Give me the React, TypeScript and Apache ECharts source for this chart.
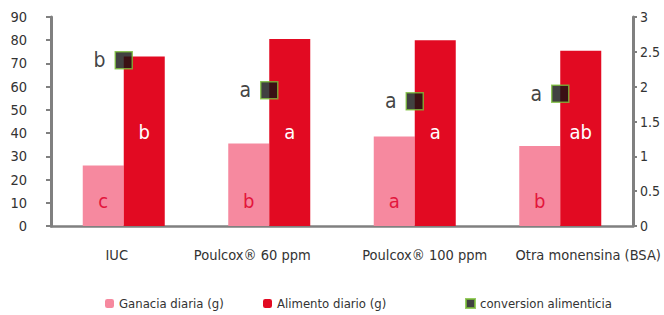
import React, { useEffect, useRef } from "react";
import * as echarts from "echarts";

const categories = ["IUC", "Poulcox® 60 ppm", "Poulcox® 100 ppm", "Otra monensina (BSA)"];
const ganancia = [26, 35.5, 38.5, 34.5];
const alimento = [73, 80.5, 80, 75.5];
const conversion = [2.38, 1.95, 1.79, 1.9];
const gananciaLetters = ["c", "b", "a", "b"];
const alimentoLetters = ["b", "a", "a", "ab"];
const conversionLetters = ["b", "a", "a", "a"];
const leftTicks = { min: 0, max: 90, interval: 10 };
const rightTicks = { min: 0, max: 3, interval: 0.5 };

// horizontal shift (px) of each category label, as in the original layout
const labelShift = [-7, -17, 10, 28];

const FONT = "'DejaVu Sans Condensed', 'Liberation Sans', sans-serif";
const PINK = "#f6899f";
const RED = "#e20a22";
const AXIS = "#808080";

const rich: Record<string, any> = {};
labelShift.forEach((s, i) => {
  rich["c" + i] = {
    fontFamily: FONT,
    fontSize: 14.5,
    color: "#333",
    padding: s >= 0 ? [0, 0, 0, 2 * s] : [0, -2 * s, 0, 0],
  };
});

export default function App() {
  const ref = useRef<HTMLDivElement>(null);
  useEffect(() => {
    const chart = echarts.init(ref.current!, null, { renderer: "svg" });
    const legendText = { fontFamily: FONT, fontSize: 13, color: "#333" };
    const legendBase = { top: 297, padding: 0, itemWidth: 9, itemHeight: 9, itemGap: 12, textStyle: legendText };
    chart.setOption({
      animation: false,
      backgroundColor: "#ffffff",
      textStyle: { fontFamily: FONT },
      grid: { left: 51, right: 31, top: 17, bottom: 89 },
      legend: [
        { ...legendBase, data: ["Ganacia diaria (g)"], left: 105 },
        { ...legendBase, data: ["Alimento diario (g)"], left: 263 },
        { ...legendBase, data: ["conversion alimenticia"], left: 465 },
      ],
      xAxis: {
        type: "category",
        data: categories,
        axisLine: { lineStyle: { color: AXIS, width: 2.5 } },
        axisTick: { show: false },
        axisLabel: {
          interval: 0,
          margin: 21,
          fontFamily: FONT,
          fontSize: 14.5,
          color: "#333",
          formatter: (v: string, i: number) => `{c${i}|${v}}`,
          rich,
        },
      },
      yAxis: [
        {
          type: "value",
          ...leftTicks,
          splitLine: { show: false },
          axisLine: { show: true, lineStyle: { color: AXIS, width: 3 } },
          axisTick: { show: true, length: 5, lineStyle: { color: AXIS, width: 2 } },
          axisLabel: { margin: 24, fontFamily: FONT, fontSize: 14.5, color: "#333" },
        },
        {
          type: "value",
          ...rightTicks,
          position: "right",
          splitLine: { show: false },
          axisLine: { show: true, lineStyle: { color: AXIS, width: 3 } },
          axisTick: { show: true, length: 4, lineStyle: { color: AXIS, width: 2 } },
          axisLabel: { margin: 7, fontFamily: FONT, fontSize: 14, color: "#333" },
        },
      ],
      series: [
        {
          name: "Ganacia diaria (g)",
          type: "bar",
          data: ganancia,
          barWidth: 41,
          barGap: "0%",
          itemStyle: { color: PINK },
          label: {
            show: true,
            position: "insideBottom",
            distance: 15,
            formatter: (p: any) => gananciaLetters[p.dataIndex],
            color: "#e3163c",
            fontFamily: FONT,
            fontSize: 20,
          },
        },
        {
          name: "Alimento diario (g)",
          type: "bar",
          data: alimento,
          barWidth: 41,
          barGap: "0%",
          itemStyle: { color: RED },
          label: {
            show: true,
            position: "insideBottom",
            distance: 84,
            formatter: (p: any) => alimentoLetters[p.dataIndex],
            color: "#ffffff",
            fontFamily: FONT,
            fontSize: 20,
          },
        },
        {
          name: "conversion alimenticia",
          type: "scatter",
          yAxisIndex: 1,
          data: conversion,
          symbol: "rect",
          symbolSize: 17,
          itemStyle: { color: "#111111", borderColor: "#7cbf3a", borderWidth: 1.5 },
          label: {
            show: true,
            position: "left",
            distance: 9,
            formatter: (p: any) => conversionLetters[p.dataIndex],
            color: "#111",
            fontFamily: FONT,
            fontSize: 21,
          },
          z: 5,
        },
      ],
    });
    return () => chart.dispose();
  }, []);
  return (
    <div
      ref={ref}
      style={{ position: "fixed", left: 0, top: 0, width: 664, height: 315 }}
    />
  );
}
